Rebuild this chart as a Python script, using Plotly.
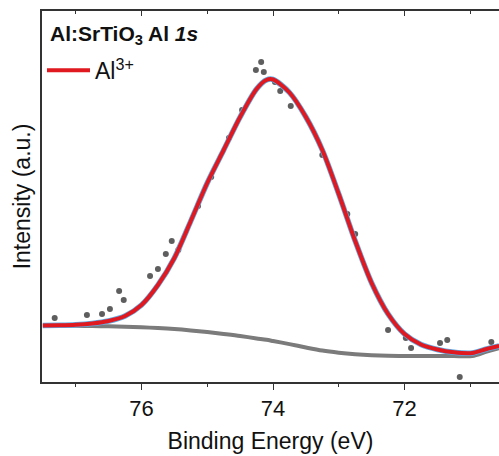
import plotly.graph_objects as go

# ---- data (binding energy in eV, intensity in a.u.) ----
pts_energy = [77.32, 76.83, 76.60, 76.48, 76.34, 76.27, 75.87, 75.75, 75.63, 75.54,
              75.44, 75.14, 74.94, 74.67, 74.47, 74.26, 74.18, 74.14, 73.97, 73.89,
              73.73, 73.25, 72.87, 72.75, 72.25, 71.98, 71.90, 71.46, 71.35, 71.16,
              70.68]
pts_intensity = [64, 67, 68, 73, 91, 82, 106, 113, 128, 141,
                 132, 176, 205, 244, 272, 312, 320, 310, 300, 291,
                 276, 227, 168, 148, 52, 44, 34, 39, 42, 5,
                 40]

curve_energy = [77.5, 77.25, 77.0, 76.75, 76.5, 76.25, 76.0, 75.75, 75.5, 75.25,
                75.0, 74.75, 74.5, 74.25, 74.1, 74.0, 73.75, 73.5, 73.25, 73.0,
                72.75, 72.5, 72.25, 72.0, 71.75, 71.5, 71.25, 70.97, 70.75, 70.56]
fit_al3 = [56.5, 56.7, 57.2, 58.5, 61, 66, 77, 97, 124, 161,
           199, 232, 265, 293, 302, 302.5, 289.5, 265, 232, 188,
           141, 99, 68, 48, 37.5, 32.5, 29.7, 29, 33, 36]
background = [56.5, 56.4, 56.2, 56.0, 55.7, 55.2, 54.7, 54.0, 53.0, 51.6,
              49.9, 48.0, 46.0, 43.6, 42.2, 41.0, 37.9, 34.5, 31.4, 29.3,
              27.8, 26.8, 26.2, 26.0, 26.0, 26.0, 26.0, 26.0, 30.4, 34.0]

x_range = [77.513, 70.563]
y_range = [0, 371]
major_ticks = [76, 74, 72]

FONT = "Arial, Liberation Sans, sans-serif"

fig = go.Figure()

fig.add_trace(go.Scatter(
    x=curve_energy, y=background, mode="lines",
    line=dict(color="#7b7b7b", width=4, shape="spline", smoothing=0.8),
    showlegend=False, hoverinfo="skip"))

fig.add_trace(go.Scatter(
    x=pts_energy, y=pts_intensity, mode="markers",
    marker=dict(color="#5e5e5e", size=6),
    showlegend=False))

fig.add_trace(go.Scatter(
    x=curve_energy, y=fit_al3, mode="lines",
    line=dict(color="#5fa8e3", width=5.5, shape="spline", smoothing=0.8),
    showlegend=False, hoverinfo="skip"))

fig.add_trace(go.Scatter(
    x=curve_energy, y=fit_al3, mode="lines",
    line=dict(color="#e0181f", width=4, shape="spline", smoothing=0.8),
    name="Al<sup>3+</sup>", showlegend=True))

# invisible trace to activate top axis
fig.add_trace(go.Scatter(x=[x_range[0]], y=[y_range[0]], xaxis="x2", mode="markers",
                         marker=dict(opacity=0), showlegend=False, hoverinfo="skip"))

fig.update_layout(
    width=499, height=456,
    margin=dict(l=42, r=0, t=11, b=74),
    paper_bgcolor="white", plot_bgcolor="white",
    font=dict(family=FONT, color="#111111"),
    xaxis=dict(
        range=x_range, tickvals=major_ticks, ticks="outside", ticklen=6, tickwidth=1.2,
        tickcolor="#333333",
        showline=True, linecolor="#333333", linewidth=1.5, mirror=False,
        showgrid=False, zeroline=False,
        tickfont=dict(size=22, family=FONT, color="#111111"),
        minor=dict(dtick=1, tick0=0, ticks="outside", ticklen=3, tickcolor="#333333", tickwidth=1.2),
        title=dict(text="Binding Energy (eV)", font=dict(size=23, family=FONT, color="#111111"), standoff=13),
    ),
    xaxis2=dict(
        range=x_range, overlaying="x", side="top", tickvals=major_ticks,
        ticks="inside", ticklen=5, tickwidth=1.2, tickcolor="#333333",
        showline=True, linecolor="#333333", linewidth=1.5,
        showticklabels=False, showgrid=False, zeroline=False,
        minor=dict(dtick=1, tick0=0, ticks="inside", ticklen=3, tickcolor="#333333", tickwidth=1.2),
    ),
    yaxis=dict(
        range=y_range, showticklabels=False, ticks="", showgrid=False, zeroline=False,
        showline=True, linecolor="#333333", linewidth=1.5,
        title=dict(text="Intensity (a.u.)", font=dict(size=23, family=FONT, color="#111111"), standoff=3),
    ),
    legend=dict(
        x=0.0, y=0.898, xanchor="left", yanchor="top",
        bgcolor="rgba(0,0,0,0)", font=dict(size=23, family=FONT, color="#111111"),
        itemwidth=43,
    ),
    annotations=[dict(
        text="<b>Al:SrTiO<sub>3</sub> Al <i>1s</i></b>",
        xref="paper", yref="paper", x=0.013, y=0.935, xanchor="left", yanchor="middle",
        showarrow=False, font=dict(size=21, family=FONT, color="#111111"),
    )],
)

fig.write_html("out.html")
